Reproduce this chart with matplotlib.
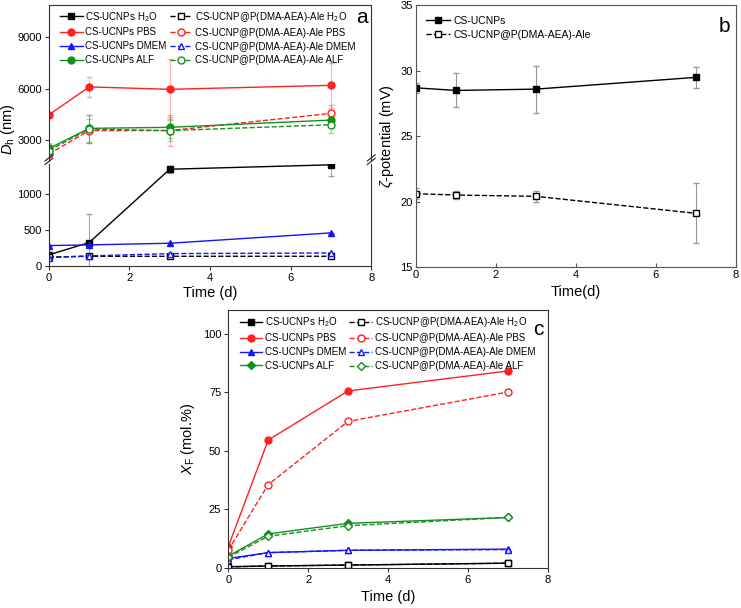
import numpy as np
import matplotlib.pyplot as plt

plt.rcParams['font.family'] = ['Liberation Sans', 'DejaVu Sans']
plt.rcParams['mathtext.fontset'] = 'custom'
plt.rcParams['mathtext.rm'] = 'Liberation Sans'
plt.rcParams['mathtext.it'] = 'Liberation Sans:italic'

# ---- data ----
days = [0, 1, 3, 7]
media = ['H$_2$O', 'PBS', 'DMEM', 'ALF']
colors = ['#000000', '#ff2020', '#1515ff', '#14901e']

# panel a: hydrodynamic diameter (nm)
dh_bare = [[155, 326, 1344, 1405],
           [4480, 6100, 5960, 6190],
           [284, 293, 316, 460],
           [2520, 3690, 3750, 4170]]
dh_bare_err = [[0, 395, 50, 150],
               [0, 600, 1750, 1300],
               [0, 0, 0, 0],
               [300, 800, 600, 400]]
dh_coat = [[125, 135, 135, 135],
           [2200, 3560, 3560, 4560],
           [116, 140, 172, 181],
           [2400, 3650, 3560, 3900]]
dh_coat_err = [[0, 0, 0, 0],
               [200, 700, 900, 500],
               [0, 0, 0, 0],
               [300, 800, 600, 500]]

# panel b: zeta potential (mV)
zeta_bare = [28.7, 28.5, 28.6, 29.5]
zeta_bare_err = [0.4, 1.3, 1.8, 0.8]
zeta_coat = [20.6, 20.5, 20.4, 19.1]
zeta_coat_err = [0.4, 0.3, 0.4, 2.3]

# panel c: fluoride release X_F (mol.%)
xf_bare = [[0.5, 0.8, 1.2, 2.0],
           [9.0, 54.5, 75.5, 84.0],
           [4.0, 6.5, 7.5, 8.0],
           [5.0, 14.5, 19.0, 21.5]]
xf_coat = [[0.4, 0.8, 1.2, 2.0],
           [7.5, 35.5, 62.5, 75.0],
           [3.5, 6.5, 7.5, 7.8],
           [4.5, 13.5, 18.0, 21.5]]

bare_name = 'CS-UCNPs'
coat_name = 'CS-UCNP@P(DMA-AEA)-Ale'

fig = plt.figure(figsize=(7.41, 6.08), dpi=100)

frame = '#333333'
fs = 8
lfs = 7


def style(ax, color=frame, direction='out'):
    for s in ax.spines.values():
        s.set_color(color)
    ax.tick_params(direction=direction, labelsize=fs, color=color, length=3, pad=2)


def fade(eb, a=0.35):
    for cl in eb[1]:
        cl.set_alpha(a)
    for bl in eb[2]:
        bl.set_alpha(a)


# ---- panel a (broken y axis) ----
ax_top = fig.add_axes([0.066, 0.736, 0.435, 0.256])
ax_bot = fig.add_axes([0.066, 0.5625, 0.435, 0.167])

handles_bare, handles_coat = [], []
mk_a = ['s', 'o', '^', 'o']
for ax in (ax_top, ax_bot):
    for i in range(4):
        c = colors[i]
        h1 = ax.errorbar(days, dh_bare[i], yerr=dh_bare_err[i], color=c, marker=mk_a[i],
                         ms=5, lw=1, ecolor=c, elinewidth=0.8, capsize=2.5)
        fade(h1)
        h2 = ax.errorbar(days, dh_coat[i], yerr=dh_coat_err[i], color=c, marker=mk_a[i],
                         ms=5, lw=1, ls='--', mfc='white', ecolor=c, elinewidth=0.8, capsize=2.5)
        fade(h2)
        if ax is ax_top:
            handles_bare.append(h1[0])
            handles_coat.append(h2[0])
    ax.set_xlim(0, 8)
    style(ax)

ax_top.set_ylim(1820, 10870)
ax_top.set_yticks([3000, 6000, 9000])
ax_top.spines['bottom'].set_visible(False)
ax_top.tick_params(bottom=False, labelbottom=False)
ax_bot.set_ylim(0, 1410)
ax_bot.set_yticks([0, 500, 1000])
ax_bot.spines['top'].set_visible(False)
ax_bot.set_xticks([0, 2, 4, 6, 8])
ax_bot.set_xlabel('Time (d)', fontsize=10.5, labelpad=2)
ax_top.set_ylabel('$D_{\\rm h}$ (nm)', fontsize=10.5)
ax_top.yaxis.set_label_coords(-0.1, 0.2)

# break marks
for x0 in (0, 1):
    for y0 in (1.0, 1.035):
        ax_bot.plot([x0 - 0.012, x0 + 0.012], [y0, y0 + 0.06], transform=ax_bot.transAxes,
                    color=frame, lw=0.9, clip_on=False)

labels_a = [f'{bare_name} {m}' for m in media] + [f'{coat_name} {m}' for m in media]
ax_top.legend(handles_bare + handles_coat, labels_a, ncol=2, loc='upper left',
              frameon=False, fontsize=lfs, handlelength=2.3, labelspacing=0.4,
              columnspacing=0.3, handletextpad=0.3, borderaxespad=0.1,
              bbox_to_anchor=(0.02, 1.0))
ax_top.text(0.97, 0.92, 'a', transform=ax_top.transAxes, fontsize=15,
            ha='center', va='center')

# ---- panel b ----
axb = fig.add_axes([0.561, 0.561, 0.432, 0.430])
hb1 = axb.errorbar(days, zeta_bare, yerr=zeta_bare_err, color='black', marker='s', ms=5,
                   lw=1, ecolor='#999999', elinewidth=0.8, capsize=2.5)
hb2 = axb.errorbar(days, zeta_coat, yerr=zeta_coat_err, color='black', marker='s', ms=5,
                   lw=1, ls='--', mfc='white', ecolor='#999999', elinewidth=0.8, capsize=2.5)
axb.set_xlim(0, 8)
axb.set_ylim(15, 35)
axb.set_xticks([0, 2, 4, 6, 8])
axb.set_yticks([15, 20, 25, 30, 35])
style(axb, color='#555555', direction='in')
axb.set_xlabel('Time(d)', fontsize=10.5, labelpad=4)
axb.set_ylabel('$\\zeta$-potential (mV)', fontsize=10.5, labelpad=3)
axb.legend([hb1[0], hb2[0]], [bare_name, coat_name], loc='upper left', frameon=False,
           fontsize=7.5, handlelength=2.3, labelspacing=0.4, handletextpad=0.3,
           borderaxespad=0.6)
axb.text(0.965, 0.92, 'b', transform=axb.transAxes, fontsize=15, ha='center', va='center')

# ---- panel c ----
axc = fig.add_axes([0.308, 0.066, 0.431, 0.424])
mk_c = ['s', 'o', '^', 'D']
hc_bare, hc_coat = [], []
for i in range(4):
    c = colors[i]
    ms = 4.5 if mk_c[i] == 'D' else 5
    l1, = axc.plot(days, xf_bare[i], color=c, marker=mk_c[i], ms=ms, lw=1)
    l2, = axc.plot(days, xf_coat[i], color=c, marker=mk_c[i], ms=ms, lw=1, ls='--',
                   mfc='white')
    hc_bare.append(l1)
    hc_coat.append(l2)
axc.set_xlim(0, 8)
axc.set_ylim(0, 110)
axc.set_xticks([0, 2, 4, 6, 8])
axc.set_yticks([0, 25, 50, 75, 100])
style(axc)
axc.set_xlabel('Time (d)', fontsize=10.5, labelpad=4)
axc.set_ylabel('$X_{\\rm F}$ (mol.%)', fontsize=10.5, labelpad=4)
axc.legend(hc_bare + hc_coat, labels_a, ncol=2, loc='upper left', frameon=False,
           fontsize=lfs, handlelength=2.3, labelspacing=0.4, columnspacing=0.3,
           handletextpad=0.3, borderaxespad=0.15, bbox_to_anchor=(0.02, 1.0))
axc.text(0.97, 0.925, 'c', transform=axc.transAxes, fontsize=15, ha='center', va='center')

fig.savefig('out.png', dpi=100)
